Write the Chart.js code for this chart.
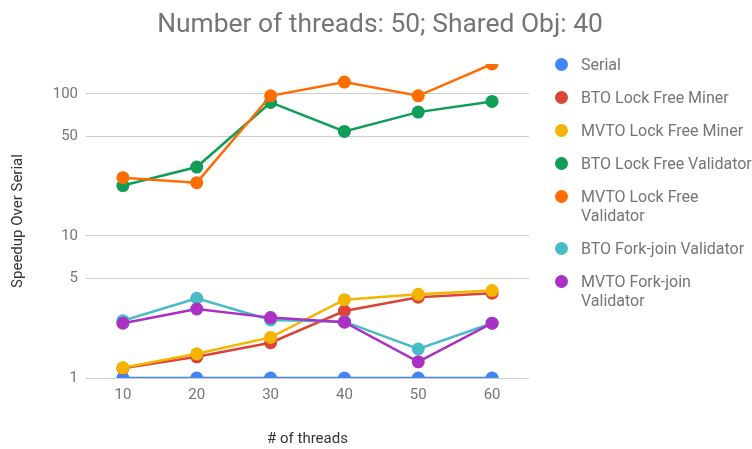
<!DOCTYPE html>
<html>
<head>
<meta charset="utf-8">
<script src="https://cdn.jsdelivr.net/npm/chart.js@4/dist/chart.umd.min.js"></script>
<style>
  html, body { margin: 0; padding: 0; background: #fff; overflow: hidden; }
  #wrap { position: relative; width: 752px; height: 449px; }
  #title {
    position: absolute; left: 0; top: 7px; width: 760px; text-align: center;
    font-family: Roboto, sans-serif; font-size: 26.4px; line-height: 32px; color: #757575;
  }
  #legend {
    position: absolute; left: 555px; top: 55px; width: 198px;
    font-family: Roboto, sans-serif; font-size: 16px; line-height: 19px; color: #757575;
  }
  .item { position: relative; padding-left: 26px; margin-bottom: 14px; }
  .dot { position: absolute; left: 0; top: 3px; width: 13px; height: 13px; border-radius: 50%; }
</style>
</head>
<body>
<div id="wrap">
  <canvas id="chart" width="752" height="449"></canvas>
  <div id="title">Number of threads: 50; Shared Obj: 40</div>
  <div id="legend"></div>
</div>
<script>
const threads = ["10", "20", "30", "40", "50", "60"];
const yTicks = [1, 5, 10, 50, 100];

const seriesNames = [
    "Serial",
    "BTO Lock Free Miner",
    "MVTO Lock Free Miner",
    "BTO Lock Free Validator",
    "MVTO Lock Free Validator",
    "BTO Fork-join Validator",
    "MVTO Fork-join Validator"
];
const seriesColors = ["#4285F4", "#DB4437", "#F4B400", "#0F9D58", "#FF6D00", "#46BDC6", "#AB30C4"];

const serial        = [1, 1, 1, 1, 1, 1];
const btoMiner      = [1.17, 1.41, 1.77, 2.96, 3.70, 3.95];
const mvtoMiner     = [1.18, 1.48, 1.93, 3.56, 3.88, 4.12];
const btoValidator  = [22.6, 30.5, 86.9, 54.3, 74.3, 88.3];
const mvtoValidator = [25.7, 23.7, 96.8, 120.8, 96.8, 162];
const btoForkJoin   = [2.53, 3.64, 2.56, 2.49, 1.60, 2.43];
const mvtoForkJoin  = [2.43, 3.06, 2.66, 2.47, 1.30, 2.43];

const seriesData = [serial, btoMiner, mvtoMiner, btoValidator, mvtoValidator, btoForkJoin, mvtoForkJoin];

const grey = "#757575";

const datasets = seriesNames.map((name, i) => ({
    label: name,
    data: seriesData[i],
    borderColor: seriesColors[i],
    backgroundColor: seriesColors[i],
    borderWidth: 2.5,
    pointRadius: 6.5,
    pointHoverRadius: 6.5,
    pointBorderWidth: 0,
    tension: 0,
    order: seriesNames.length - i
}));

const ctx = document.getElementById("chart").getContext("2d");
const chart = new Chart(ctx, {
    type: "line",
    data: { labels: threads, datasets },
    options: {
        responsive: false,
        animation: false,
        layout: { padding: { left: 0, right: 223, top: 64, bottom: 0 } },
        plugins: {
            legend: { display: false },
            tooltip: { enabled: false }
        },
        scales: {
            x: {
                offset: true,
                grid: { display: false, drawTicks: false },
                border: { display: false },
                ticks: { color: grey, font: { family: "Roboto", size: 15 }, padding: 8 },
                title: {
                    display: true, text: "# of threads", color: "#333",
                    font: { family: "Roboto", size: 15 }, padding: { top: 0, bottom: 1 }
                },
                afterFit: s => { s.height = 71; }
            },
            y: {
                type: "logarithmic",
                min: 1,
                max: 162,
                grid: { color: "#cccccc", drawTicks: false },
                border: { display: false },
                ticks: {
                    color: grey, font: { family: "Roboto", size: 15 }, padding: 8,
                    callback: v => String(v)
                },
                afterBuildTicks: s => { s.ticks = yTicks.map(v => ({ value: v })); },
                title: {
                    display: true, text: "Speedup Over Serial", color: "#333",
                    font: { family: "Roboto", size: 15 }, padding: { top: 9, bottom: 0 }
                },
                afterFit: s => { s.width = 86; }
            }
        }
    }
});

// legend built from the same series lists
const legend = document.getElementById("legend");
seriesNames.forEach((name, i) => {
    const item = document.createElement("div");
    item.className = "item";
    const dot = document.createElement("span");
    dot.className = "dot";
    dot.style.background = seriesColors[i];
    item.appendChild(dot);
    item.appendChild(document.createTextNode(name));
    legend.appendChild(item);
});
</script>
</body>
</html>
